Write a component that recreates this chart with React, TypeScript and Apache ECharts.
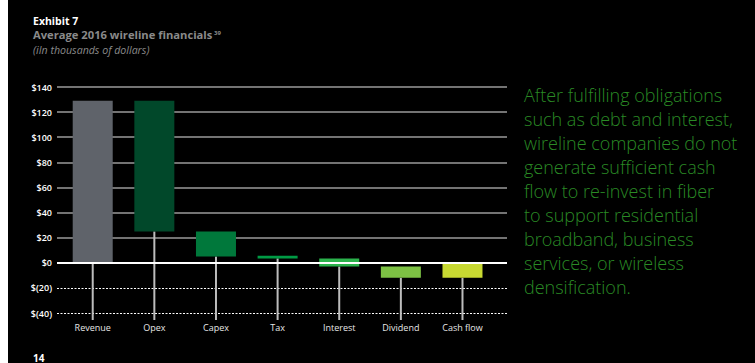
import React, { useEffect, useRef } from "react";
import * as echarts from "echarts";

const categories = ["Revenue", "Opex", "Capex", "Tax", "Interest", "Dividend", "Cash flow"];
const barStart = [0, 129, 25, 5.5, 3.5, -3, 0];
const barEnd = [129, 25, 5, 3.5, -3, -12, -12];
const yTickValues = [-40, -20, 0, 20, 40, 60, 80, 100, 120, 140];

const barColors = ["#5f636a", "#01482a", "#00783b", "#009a44", "#2bb24c", "#7dc144", "#c8d932"];

const fmtDollar = (v: number) => (v < 0 ? `$(${-v})` : `$${v}`);

export default function App() {
  const ref = useRef<HTMLDivElement>(null);
  useEffect(() => {
    if (!ref.current) return;
    const chart = echarts.init(ref.current, null, { renderer: "svg" });
    const yMin = yTickValues[0];
    const yMax = yTickValues[yTickValues.length - 1];
    const yInterval = yTickValues[1] - yTickValues[0];
    const font = "'Open Sans', 'Noto Sans', sans-serif";

    const gridLineData = yTickValues
      .filter((v) => v !== 0)
      .map((v) => ({
        yAxis: v,
        lineStyle:
          v > 0
            ? { color: "#9a9a9a", width: 1.5, type: "solid" }
            : { color: "#ffffff", width: 1, type: [2, 1.5] },
      }));

    chart.setOption({
      animation: false,
      backgroundColor: "#000000",
      textStyle: { fontFamily: font },
      grid: [
        { left: 49, right: 248, top: 87, bottom: 50, containLabel: false },
        { left: 53.9, right: 261.7, top: 87, bottom: 50, containLabel: false },
      ],
      xAxis: [
        { type: "value", gridIndex: 0, min: 0, max: 1, show: false },
        {
          type: "category",
          gridIndex: 1,
          data: categories,
          boundaryGap: true,
          axisLine: { show: false },
          axisTick: { show: false },
          axisLabel: { color: "#e6e6e6", fontSize: 9, margin: 10, fontFamily: font },
        },
      ],
      yAxis: [
        {
          type: "value",
          gridIndex: 0,
          min: yMin,
          max: yMax,
          interval: yInterval,
          axisLine: { show: false },
          axisTick: { show: false },
          splitLine: { show: false },
          axisLabel: {
            color: "#ffffff",
            fontSize: 9,
            fontWeight: 600,
            margin: 5,
            fontFamily: font,
            formatter: fmtDollar,
          },
        },
        {
          type: "value",
          gridIndex: 1,
          min: yMin,
          max: yMax,
          interval: yInterval,
          show: false,
          splitLine: { show: false },
        },
      ],
      series: [
        {
          type: "line",
          xAxisIndex: 0,
          yAxisIndex: 0,
          data: [],
          silent: true,
          markLine: {
            z: 1,
            silent: true,
            symbol: "none",
            label: { show: false },
            data: gridLineData,
          },
        },
        {
          type: "custom",
          xAxisIndex: 1,
          yAxisIndex: 1,
          z: 3,
          data: categories.map((_, i) => [i, barStart[i], barEnd[i]]),
          renderItem: (params: any, api: any) => {
            const i = api.value(0);
            const s = api.value(1);
            const e = api.value(2);
            const top = api.coord([i, Math.max(s, e)]);
            const bot = api.coord([i, Math.min(s, e)]);
            const lineBottom = api.coord([i, yMin])[1] + 7;
            const w = 40;
            return {
              type: "group",
              children: [
                {
                  type: "line",
                  shape: { x1: top[0], y1: bot[1], x2: top[0], y2: lineBottom },
                  style: { stroke: "#bdbdbd", lineWidth: 2 },
                },
                {
                  type: "rect",
                  shape: { x: top[0] - w / 2, y: top[1], width: w, height: Math.max(bot[1] - top[1], 1) },
                  style: { fill: barColors[i] },
                },
              ],
            };
          },
        },
        {
          type: "line",
          xAxisIndex: 0,
          yAxisIndex: 0,
          data: [],
          silent: true,
          markLine: {
            z: 10,
            silent: true,
            symbol: "none",
            label: { show: false },
            data: [{ yAxis: 0, lineStyle: { color: "#ffffff", width: 2, type: "solid" } }],
          },
        },
      ],
      graphic: [
        {
          type: "text",
          left: 25,
          top: 15,
          style: { text: "Exhibit 7", fill: "#ffffff", font: `bold 10.5px ${font}` },
        },
        {
          type: "text",
          left: 25,
          top: 29,
          style: { text: "Average 2016 wireline financials", fill: "#8a8a8a", font: `bold 11.2px ${font}` },
        },
        {
          type: "text",
          left: 206,
          top: 30,
          style: { text: "39", fill: "#8a8a8a", font: `bold 6px ${font}` },
        },
        {
          type: "text",
          left: 25,
          top: 44,
          style: { text: "(iIn thousands of dollars)", fill: "#8a8a8a", font: `italic 10.6px ${font}` },
        },
        {
          type: "text",
          left: 516,
          top: 83,
          style: {
            text:
              "After fulfilling obligations\nsuch as debt and interest,\nwireline companies do not\ngenerate sufficient cash\nflow to re-invest in fiber\nto support residential\nbroadband, business\nservices, or wireless\ndensification.",
            fill: "#2a8a25",
            font: `300 18px ${font}`,
            lineHeight: 24,
          },
        },
        {
          type: "text",
          left: 25,
          top: 353,
          style: { text: "14", fill: "#ffffff", font: `bold 10px ${font}` },
        },
      ],
    });
    return () => chart.dispose();
  }, []);

  return (
    <div style={{ position: "fixed", left: 8, top: 0, width: 747, height: 363, background: "#000" }}>
      <div ref={ref} style={{ width: 747, height: 363 }} />
    </div>
  );
}
